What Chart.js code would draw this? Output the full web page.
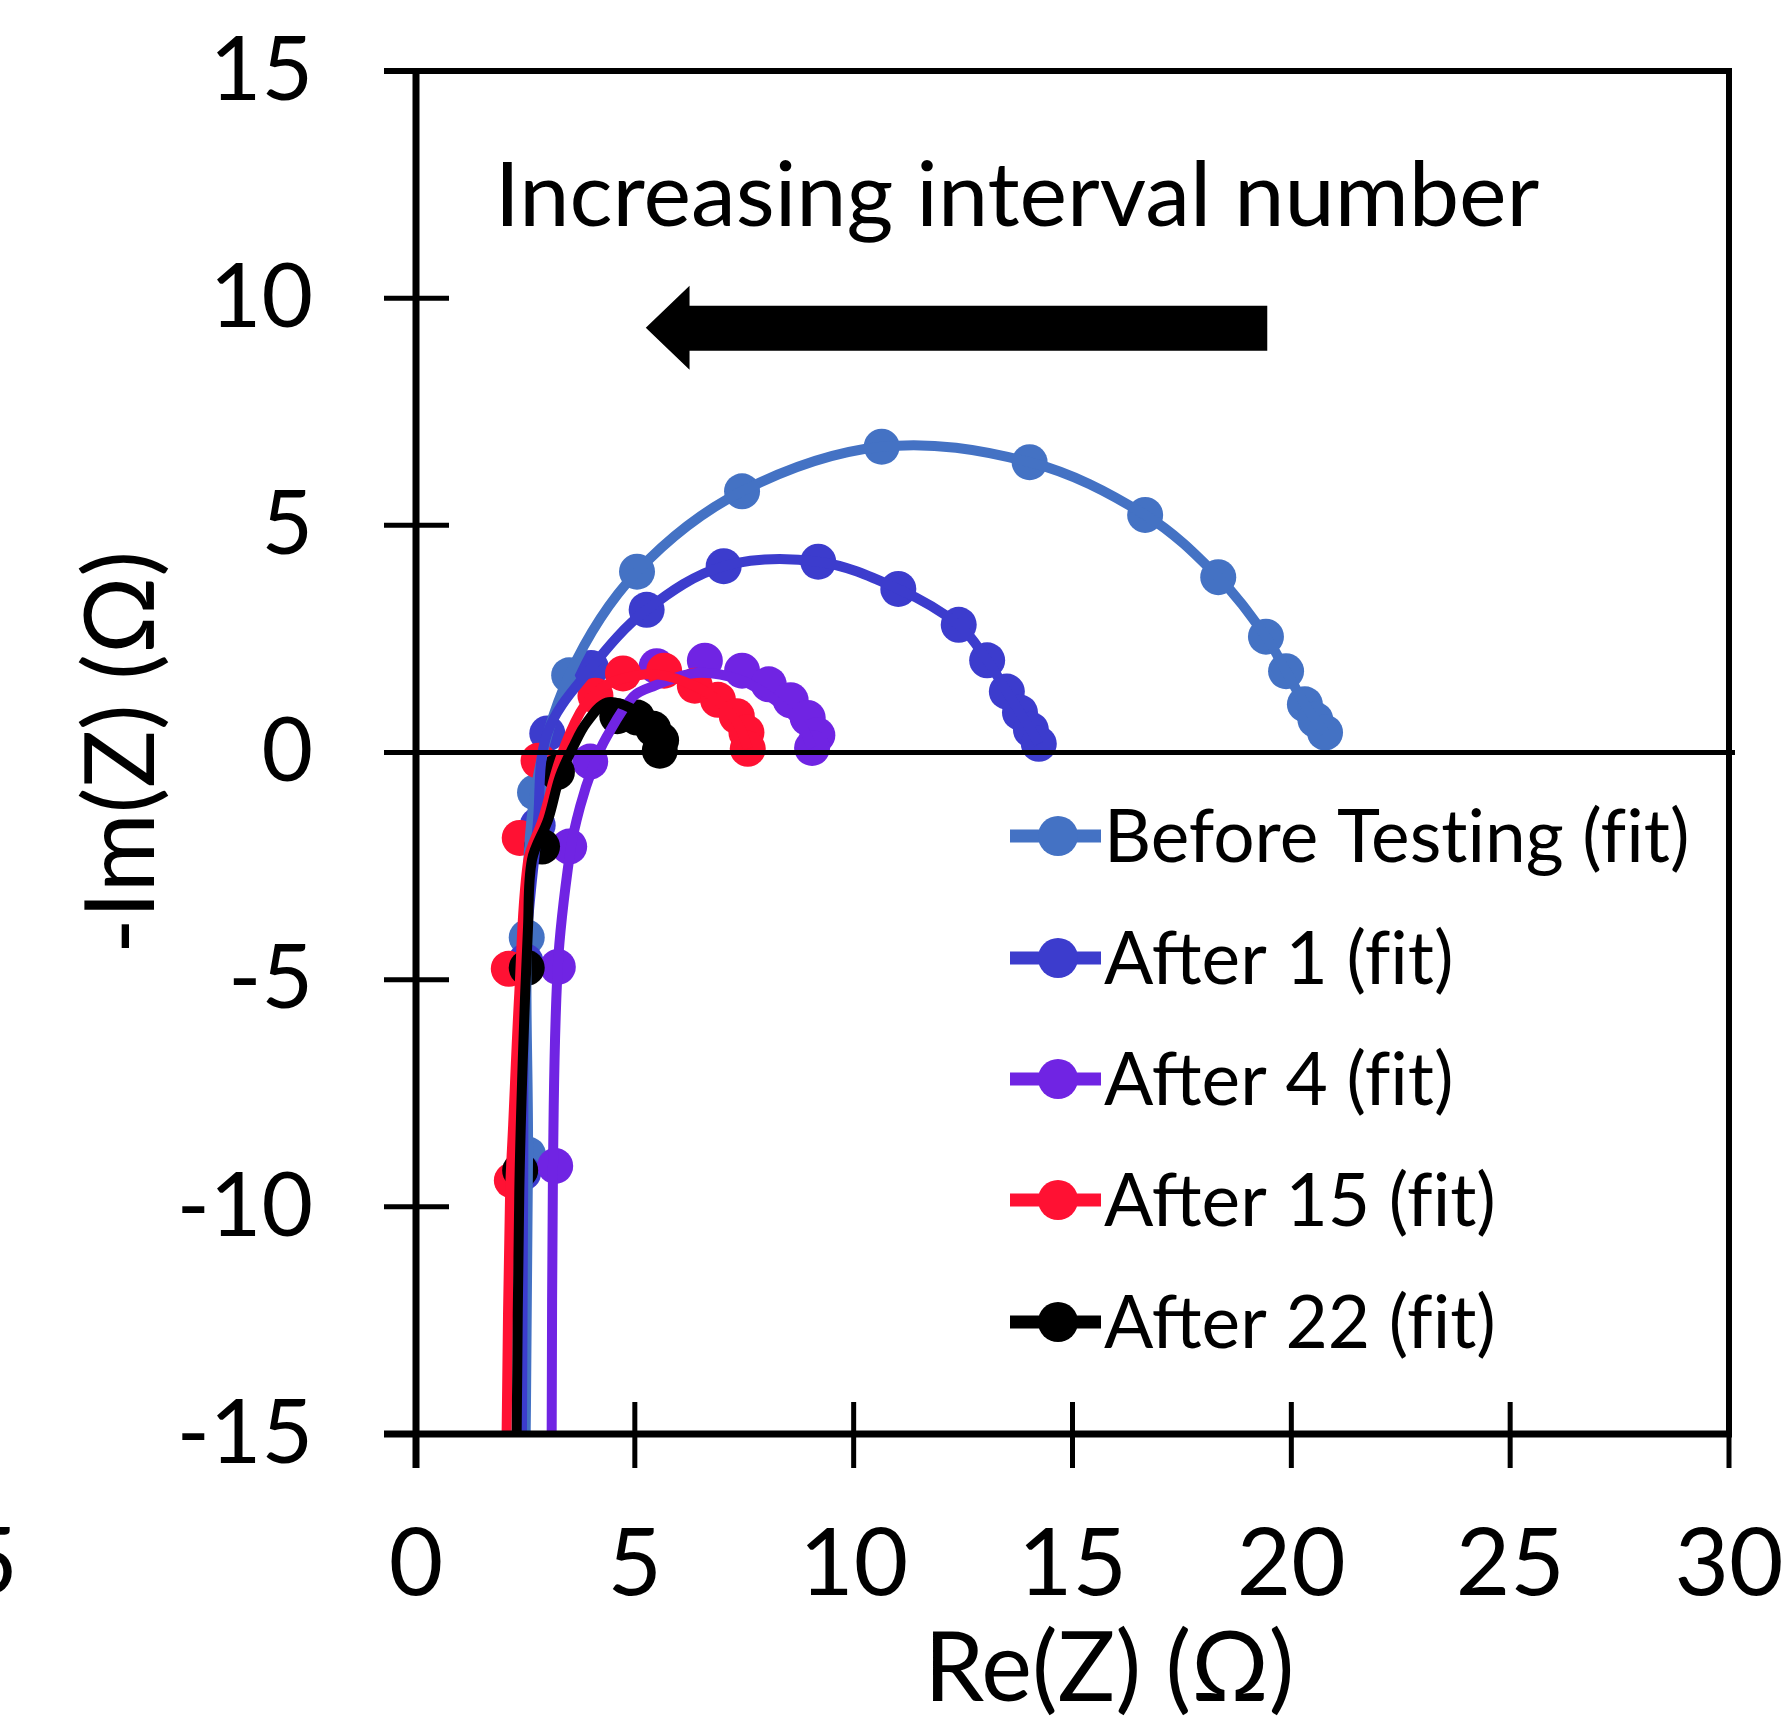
<!DOCTYPE html>
<html>
<head>
<meta charset="utf-8">
<script src="https://cdn.jsdelivr.net/npm/chart.js@4.4.0/dist/chart.umd.min.js"></script>
<style>
    html, body { margin: 0; padding: 0; background: #fff; }
    #wrap { width: 1784px; height: 1723px; }
</style>
</head>
<body>
<div id="wrap"><canvas id="grafico" width="1784" height="1723"></canvas></div>
<script>
// Nyquist - dados
// (\u200C evita as ligaduras "fi"/"ti" da fonte)
const nomesSeries = ['Before Test\u200Cing (f\u200Cit)', 'After 1 (f\u200Cit)', 'After 4 (f\u200Cit)', 'After 15 (f\u200Cit)', 'After 22 (f\u200Cit)'];
const coresSeries = ['#4472C4', '#3C3CCD', '#7024E3', '#FF1133', '#000000'];

// Pontos medidos (marcadores)
const antesX = [2.56, 2.53, 2.72, 3.5, 5.05, 7.45, 10.64, 14.02, 16.66, 18.33, 19.42, 19.88, 20.31, 20.55, 20.77];
const antesY = [-8.85, -4.07, -0.88, 1.7, 3.98, 5.75, 6.73, 6.39, 5.23, 3.86, 2.55, 1.79, 1.06, 0.72, 0.44];
const apos1X = [2.45, 2.5, 2.78, 3.0, 4.0, 5.27, 7.03, 9.19, 11.02, 12.4, 13.05, 13.5, 13.8, 14.05, 14.23];
const apos1Y = [-9.25, -4.6, -1.6, 0.42, 1.86, 3.14, 4.1, 4.2, 3.6, 2.81, 2.03, 1.34, 0.88, 0.5, 0.19];
const apos4X = [3.18, 3.24, 3.5, 3.98, 5.5, 6.6, 7.45, 8.06, 8.56, 8.95, 9.17, 9.05];
const apos4Y = [-9.1, -4.72, -2.07, -0.2, 1.9, 2.02, 1.8, 1.5, 1.15, 0.76, 0.38, 0.1];
const apos15X = [2.19, 2.12, 2.37, 2.8, 4.1, 4.73, 5.67, 6.37, 6.9, 7.33, 7.55, 7.58];
const apos15Y = [-9.42, -4.76, -1.88, -0.18, 1.25, 1.74, 1.8, 1.47, 1.16, 0.8, 0.44, 0.08];
const apos22X = [2.38, 2.53, 2.88, 3.22, 4.6, 5.05, 5.42, 5.6, 5.57];
const apos22Y = [-9.2, -4.74, -2.07, -0.43, 0.8, 0.77, 0.52, 0.27, 0.04];

// Curvas de ajuste (fit)
const antesFitX = [2.45, 2.56, 2.53, 2.72, 3.5, 5.05, 7.45, 10.64, 14.02, 16.66, 18.33, 19.42, 19.88, 20.31, 20.55, 20.77];
const antesFitY = [-20, -8.85, -4.07, -0.88, 1.7, 3.98, 5.75, 6.73, 6.39, 5.23, 3.86, 2.55, 1.79, 1.06, 0.72, 0.44];
const apos1FitX = [2.4, 2.45, 2.5, 2.78, 3.0, 4.0, 5.27, 7.03, 9.19, 11.02, 12.4, 13.05, 13.5, 13.8, 14.05, 14.23];
const apos1FitY = [-20, -9.25, -4.6, -1.6, 0.42, 1.86, 3.14, 4.1, 4.2, 3.6, 2.81, 2.03, 1.34, 0.88, 0.5, 0.19];
const apos4FitX = [3.06, 3.1, 3.13, 3.24, 3.52, 3.75, 4.05, 4.36, 4.96, 5.45, 6.4, 7.4, 8.2, 8.8, 9.05];
const apos4FitY = [-20, -15, -9.1, -4.7, -2.2, -1.19, -0.3, 0.35, 1.23, 1.47, 1.75, 1.6, 1.15, 0.6, 0.1];
const apos15FitX = [2.03, 2.07, 2.15, 2.22, 2.36, 2.56, 2.9, 3.29, 3.75, 4.2, 4.7, 5.5, 6.4, 7.0, 7.4, 7.58];
const apos15FitY = [-20, -15, -9.7, -8.2, -5.3, -2.4, -1.47, -0.15, 0.88, 1.39, 1.62, 1.72, 1.45, 1.05, 0.55, 0.08];
const apos22FitX = [2.26, 2.3, 2.36, 2.44, 2.56, 2.65, 3.02, 3.29, 3.6, 3.9, 4.36, 4.9, 5.35, 5.58];
const apos22FitY = [-20, -15, -9.68, -6.76, -3.83, -2.36, -1.47, -0.52, 0.14, 0.66, 1.1, 0.98, 0.62, 0.1];

// Eixos
const xMin = 0, xMax = 30, xPasso = 5;
const yMin = -15, yMax = 15, yPasso = 5;
const tituloX = 'Re(Z) (Ω)';
const tituloY = '-Im(Z) (Ω)';
const textoAnotacao = 'Increasing interval number';

const pontosX = [antesX, apos1X, apos4X, apos15X, apos22X];
const pontosY = [antesY, apos1Y, apos4Y, apos15Y, apos22Y];
const fitX = [antesFitX, apos1FitX, apos4FitX, apos15FitX, apos22FitX];
const fitY = [antesFitY, apos1FitY, apos4FitY, apos15FitY, apos22FitY];

const fonte = 'Lato';

function juntar(xs, ys) {
    return xs.map((v, i) => ({ x: v, y: ys[i] }));
}

function montarDatasets() {
    const lista = [];
    // marcadores primeiro (ficam por baixo)
    nomesSeries.forEach((nome, i) => {
        lista.push({
            label: nome + ' pontos',
            data: juntar(pontosX[i], pontosY[i]),
            showLine: false,
            backgroundColor: coresSeries[i],
            borderColor: coresSeries[i],
            pointRadius: 18,
            pointHoverRadius: 18,
            pointBorderWidth: 0,
            order: 20 - i
        });
    });
    // curvas de ajuste por cima
    nomesSeries.forEach((nome, i) => {
        lista.push({
            label: nome,
            data: juntar(fitX[i], fitY[i]),
            showLine: true,
            borderColor: coresSeries[i],
            backgroundColor: coresSeries[i],
            borderWidth: 10,
            pointRadius: 0,
            pointHoverRadius: 0,
            tension: 0.35,
            clip: 0,
            order: 10 - i
        });
    });
    return lista;
}

// Caixa, eixos cruzando o zero, marcas de escala
const eixosPlugin = {
    id: 'eixos',
    afterDatasetsDraw(chart) {
        const { ctx, chartArea: a, scales } = chart;
        const sx = scales.x, sy = scales.y;
        const y0 = sy.getPixelForValue(0);
        ctx.save();
        ctx.strokeStyle = '#000';
        ctx.lineCap = 'butt';

        // borda de cima e da direita
        ctx.lineWidth = 6;
        ctx.beginPath();
        ctx.moveTo(a.left - 32, a.top);
        ctx.lineTo(a.right, a.top);
        ctx.lineTo(a.right, a.bottom);
        ctx.stroke();

        // linha do zero
        ctx.lineWidth = 5;
        ctx.beginPath();
        ctx.moveTo(a.left - 32, y0);
        ctx.lineTo(a.right + 6, y0);
        ctx.stroke();

        // eixo esquerdo e eixo de baixo
        ctx.lineWidth = 7;
        ctx.beginPath();
        ctx.moveTo(a.left, a.top - 3);
        ctx.lineTo(a.left, a.bottom + 34);
        ctx.moveTo(a.left - 32, a.bottom);
        ctx.lineTo(a.right + 3, a.bottom);
        ctx.stroke();

        // marcas
        ctx.lineWidth = 5;
        ctx.beginPath();
        for (let v = yMin + yPasso; v < yMax; v += yPasso) {
            const p = sy.getPixelForValue(v);
            ctx.moveTo(a.left - 32, p);
            ctx.lineTo(a.left + 33, p);
        }
        for (let v = xMin + xPasso; v <= xMax; v += xPasso) {
            const p = sx.getPixelForValue(v);
            ctx.moveTo(p, a.bottom - 32);
            ctx.lineTo(p, a.bottom + 34);
        }
        ctx.stroke();
        ctx.restore();
    },
    afterDraw(chart) {
        const { ctx, scales } = chart;
        const sx = scales.x, sy = scales.y;
        ctx.save();

        // anotação e seta
        ctx.fillStyle = '#000';
        ctx.font = '90px ' + fonte;
        ctx.textBaseline = 'alphabetic';
        ctx.textAlign = 'left';
        ctx.fillText(textoAnotacao, sx.getPixelForValue(1.8), sy.getPixelForValue(11.58));

        const ponta = sx.getPixelForValue(5.25);
        const base = sx.getPixelForValue(6.25);
        const fim = sx.getPixelForValue(19.45);
        const meio = sy.getPixelForValue(9.35);
        ctx.beginPath();
        ctx.moveTo(ponta, meio);
        ctx.lineTo(base, meio - 42);
        ctx.lineTo(base, meio - 22);
        ctx.lineTo(fim, meio - 22);
        ctx.lineTo(fim, meio + 23);
        ctx.lineTo(base, meio + 23);
        ctx.lineTo(base, meio + 42);
        ctx.closePath();
        ctx.fill();

        // legenda
        const lx0 = 1010, lx1 = 1101, lxm = 1058, ltx = 1104;
        const ly = [836, 958, 1079, 1200, 1322];
        ctx.font = '73px ' + fonte;
        nomesSeries.forEach((nome, i) => {
            ctx.strokeStyle = coresSeries[i];
            ctx.fillStyle = coresSeries[i];
            ctx.lineWidth = 13;
            ctx.beginPath();
            ctx.moveTo(lx0, ly[i]);
            ctx.lineTo(lx1, ly[i]);
            ctx.stroke();
            ctx.beginPath();
            ctx.arc(lxm, ly[i], 20, 0, Math.PI * 2);
            ctx.fill();
            ctx.fillStyle = '#000';
            ctx.fillText(nome, ltx, ly[i] + 26);
        });

        // resto de um rótulo cortado na margem esquerda
        ctx.font = '94px ' + fonte;
        ctx.textAlign = 'right';
        ctx.fillText('5', 18, 1594);
        ctx.restore();
    }
};

const grafico = new Chart(document.getElementById('grafico'), {
    type: 'scatter',
    data: { datasets: montarDatasets() },
    options: {
        responsive: false,
        animation: false,
        layout: { padding: { left: 65, top: 71, right: 55, bottom: 0 } },
        elements: { line: { capBezierPoints: false } },
        plugins: {
            legend: { display: false },
            tooltip: { enabled: false }
        },
        scales: {
            x: {
                type: 'linear',
                min: xMin,
                max: xMax,
                afterFit: (s) => { s.height = 289; },
                grid: { display: false, drawTicks: true, tickLength: 74 },
                border: { display: false },
                ticks: {
                    stepSize: xPasso,
                    autoSkip: false,
                    maxRotation: 0,
                    color: '#000',
                    padding: 0,
                    font: { family: fonte, size: 94 }
                },
                title: {
                    display: true,
                    text: '   ' + tituloX,
                    color: '#000',
                    padding: { top: 0, bottom: 0 },
                    font: { family: fonte, size: 96, lineHeight: 1.1 }
                }
            },
            y: {
                type: 'linear',
                min: yMin,
                max: yMax,
                afterFit: (s) => { s.width = 351; },
                grid: { display: false, drawTicks: true, tickLength: 103 },
                border: { display: false },
                ticks: {
                    stepSize: yPasso,
                    autoSkip: false,
                    color: '#000',
                    padding: 0,
                    font: { family: fonte, size: 89 }
                },
                title: {
                    display: true,
                    text: tituloY,
                    color: '#000',
                    padding: { top: 0, bottom: 0 },
                    font: { family: fonte, size: 96 }
                }
            }
        }
    },
    plugins: [eixosPlugin]
});
</script>
</body>
</html>
